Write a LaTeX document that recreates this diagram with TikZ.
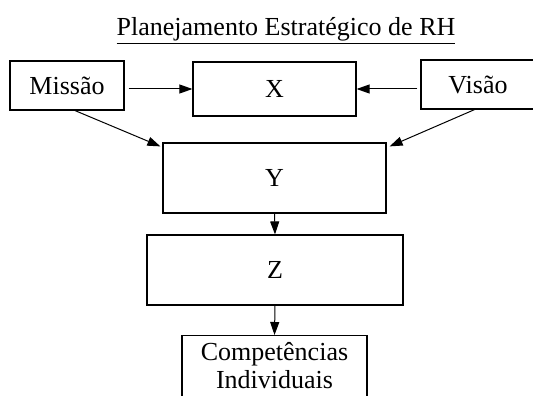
\documentclass[tikz,border=0pt]{standalone}
\usepackage{fontspec}
\setmainfont{Liberation Serif}
\usetikzlibrary{calc, arrows.meta}

\begin{document}
\begin{tikzpicture}[
  x=1pt, y=-1pt,
  font=\fontsize{26}{28}\selectfont,
  box/.style={draw, line width=1.2pt, inner sep=0pt},
  arr/.style={-{Triangle[length=13pt, width=9pt]}, line width=1pt},
]
\useasboundingbox (0,0) rectangle (533,396);

% 标题
\node[anchor=base] (T) at (286,36) {\underline{Planejamento Estratégico de RH}};

% 第一行：Missão, X, Visão（Visão 右边被裁掉）
\node[box, minimum width=114, minimum height=49] (Mis) at (67,85.5) {Missão};
\node[box, minimum width=163, minimum height=54] (X) at (274.5,89) {X};
\node[box, minimum width=114, minimum height=49] (Vis) at (478,84.5) {Visão};

% 中间两层
\node[box, minimum width=223, minimum height=70] (Y) at (274.5,178) {Y};
\node[box, minimum width=256, minimum height=70] (Z) at (275,270) {Z};

% 底部框（下边在图外）
\node[box, anchor=north, minimum width=185, align=center, inner sep=6pt,
  text height=47pt, text depth=12pt] (Comp) at (274.5,335)
  {Competências\\Individuais};

% 水平箭头 -> X
\draw[arr, shorten <=4pt] (Mis.east |- X.west) -- (X.west);
\draw[arr, shorten <=3pt] (Vis.west |- X.east) -- (X.east);

% 斜箭头 -> Y
\draw[arr] ($(Mis.south west)!0.57!(Mis.south east)$) -- ($(Y.north west)+(-2,4)$);
\draw[arr] ($(Vis.south west)!0.47!(Vis.south east)$) -- ($(Y.north east)+(3,4)$);

% 竖直箭头
\draw[arr] (Y.south) -- (Z.north);
\draw[arr] (Z.south) -- (Comp.north);

\end{tikzpicture}
\end{document}
